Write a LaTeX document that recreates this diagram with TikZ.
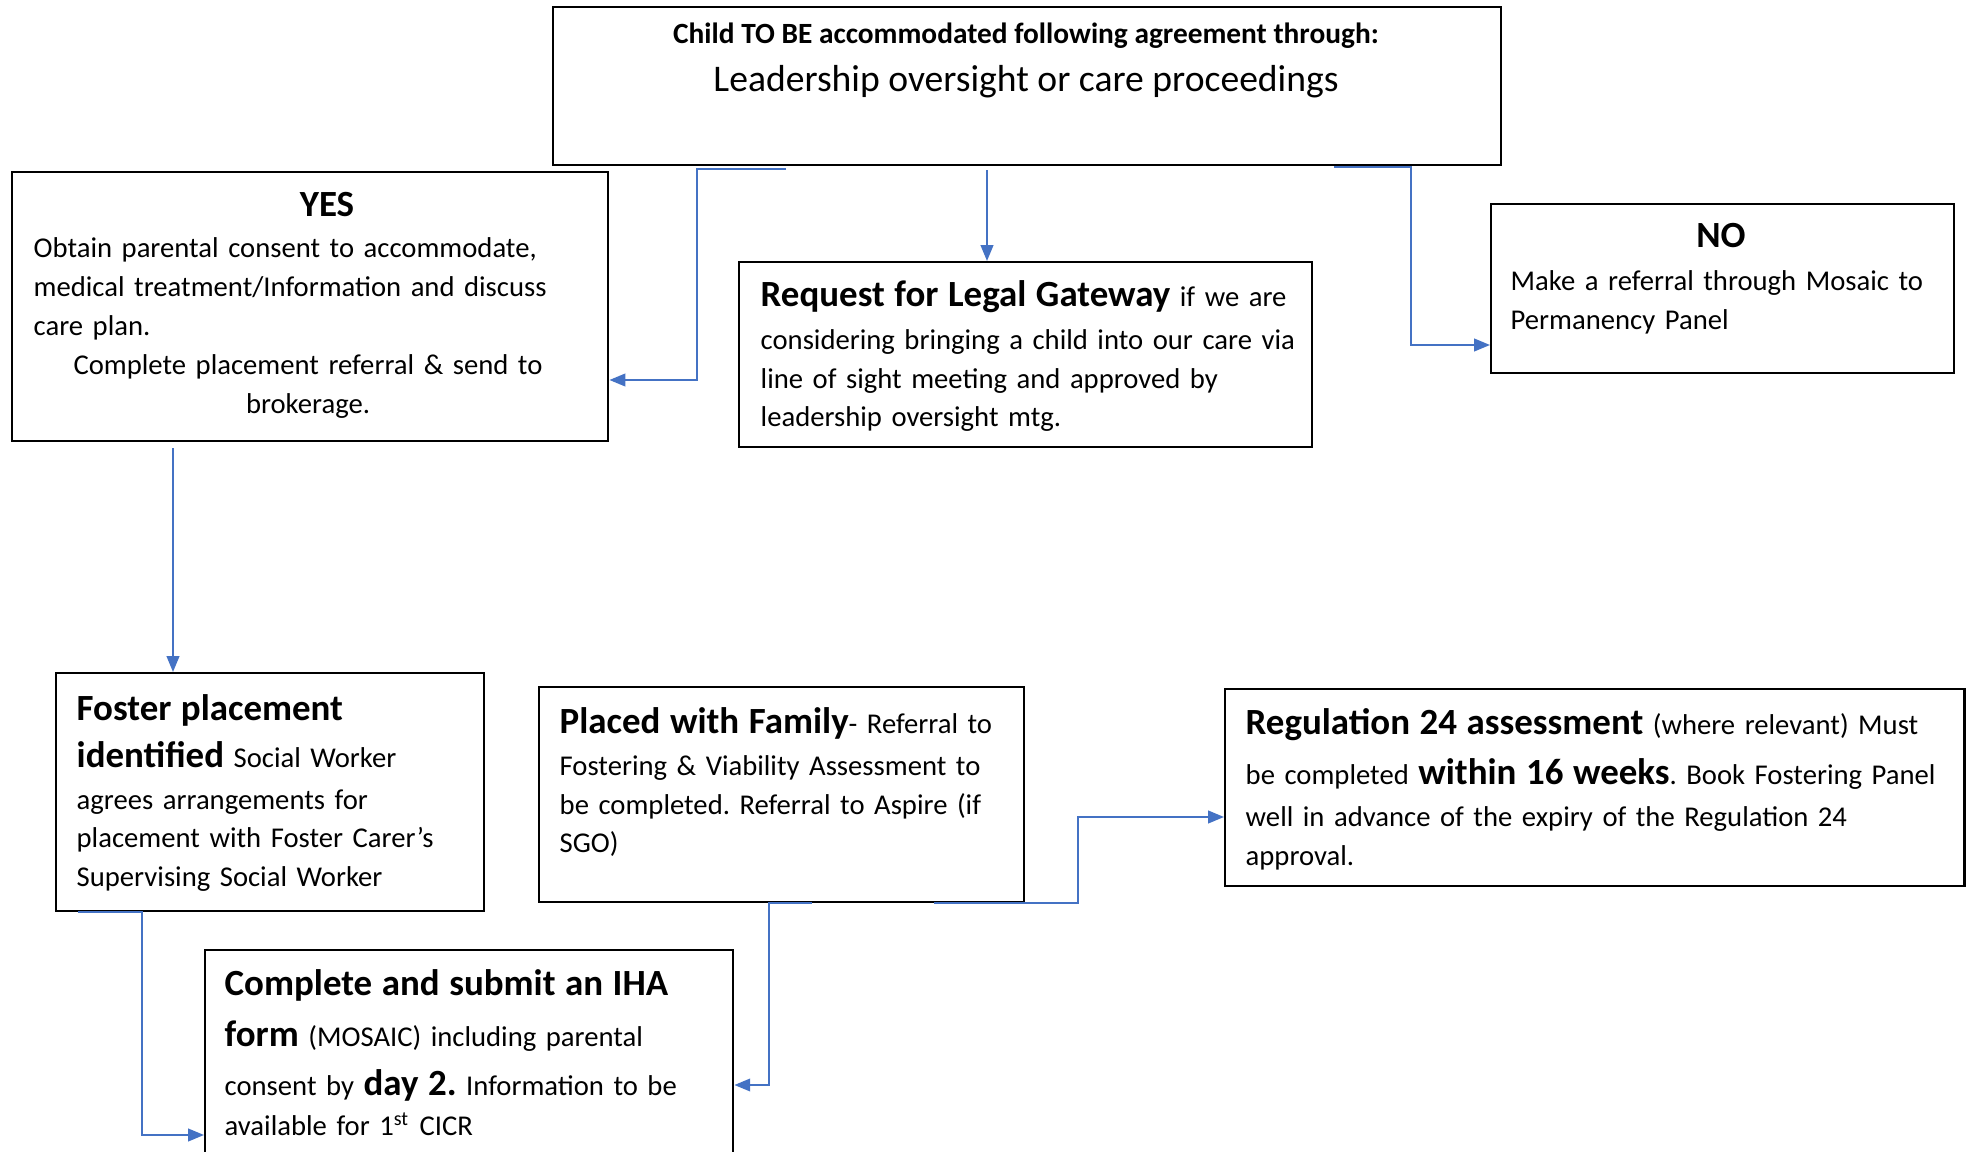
\documentclass[tikz,border=0pt]{standalone}
\usepackage{fontspec}
\setmainfont{Carlito}
\usetikzlibrary{arrows.meta,calc}
\definecolor{linkblue}{HTML}{4472C4}
\frenchspacing
\newcommand{\bodyfont}{\fontsize{8.15}{10.95}\selectfont}
\newcommand{\bigbf}[1]{{\fontsize{10.5}{10.95}\selectfont\bfseries #1}}

\begin{document}
\begin{tikzpicture}[x=0.01cm, y=-0.01cm,
  box/.style={draw, line width=0.6pt, inner sep=0pt, anchor=north west},
  txt/.style={inner sep=0pt, anchor=base west, align=left, font=\bodyfont},
  head/.style={inner sep=0pt, anchor=base, font=\fontsize{10.5}{12}\selectfont\bfseries},
  link/.style={draw=linkblue, line width=0.5pt, -{Triangle[length=4.5pt,width=3.6pt]}}]
		%%%%% FRAME %%%%%
		\clip (0,0) rectangle (1966,1152);
		
		%%%%% BOXES %%%%%
		\node[box, minimum width=9.47cm, minimum height=1.58cm] (top) at (552,6) {};
		\node[box, minimum width=5.96cm, minimum height=2.69cm] (yes) at (11,171) {};
		\node[box, minimum width=5.73cm, minimum height=1.85cm] (legal) at (738,261) {};
		\node[box, minimum width=4.63cm, minimum height=1.69cm] (no) at (1490,203) {};
		\node[box, minimum width=4.28cm, minimum height=2.38cm] (foster) at (55,672) {};
		\node[box, minimum width=4.85cm, minimum height=2.15cm] (family) at (538,686) {};
		\node[box, minimum width=7.39cm, minimum height=1.97cm] (reg) at (1224,688) {};
		\node[box, minimum width=5.28cm, minimum height=2.50cm] (iha) at (204,949) {};
		
		%%%%% TEXTS %%%%%
		\node[font=\fontsize{8.35}{10}\selectfont\bfseries, anchor=base, inner sep=0pt] (toptitle) at (1026,44) {Child TO BE accommodated following agreement through:};
		\node[font=\fontsize{10.7}{12}\selectfont, anchor=base, inner sep=0pt] (topsub) at (1026,92) {Leadership oversight or care proceedings};
		
		\node[head] (yeshead) at (327,217) {YES};
		\node[txt, text width=5.7cm] (yestxt) at (33,258) {Obtain parental consent to accommodate,\\ medical treatment/Information and discuss\\ care plan.};
		\node[txt, text width=5.7cm, align=center, anchor=base] (yesmore) at (308,375) {Complete placement referral \& send to\\ brokerage.};
		
		\node[txt, text width=5.8cm] (legaltxt) at (760,307) {\bigbf{Request for Legal Gateway} if we are\\[0.04cm] considering bringing a child into our care via\\ line of sight meeting and approved by\\ leadership oversight mtg.};
		
		\node[head] (nohead) at (1721,248) {NO};
		\node[txt, text width=4.5cm] (notxt) at (1510,291) {Make a referral through Mosaic to\\ Permanency Panel};
		
		\node[txt, text width=4.5cm] (fostertxt) at (76,720) {\bigbf{Foster placement}\\[0.085cm] \bigbf{identified} Social Worker\\[0.035cm] agrees arrangements for\\ placement with Foster Carer’s\\ Supervising Social Worker};
		
		\node[txt, text width=5cm] (familytxt) at (559,733) {\bigbf{Placed with Family}- Referral to\\[0.04cm] Fostering \& Viability Assessment to\\ be completed. Referral to Aspire (if\\ SGO)};
		
		\node[txt, text width=7.5cm] (regtxt) at (1245,735) {\bigbf{Regulation 24 assessment} (where relevant) Must\\[0.11cm] be completed \bigbf{within 16 weeks}. Book Fostering Panel\\[0.035cm] well in advance of the expiry of the Regulation 24\\ approval.};
		
		\node[txt, text width=5.5cm] (ihatxt) at (224,995) {\bigbf{Complete and submit an IHA}\\[0.125cm] \bigbf{form} (MOSAIC) including parental\\[0.11cm] consent by \bigbf{day 2.} Information to be\\[0.015cm] available for 1\textsuperscript{st} CICR};
		
		%%%%% LINKS %%%%%
		\draw[link] ($(top.south west)+(234,3)$) -| (697,380) -- (yes.east |- 0,380);
		\draw[link] ($(top.south -| 987,0)+(0,4)$) -- (legal.north -| 987,0);
		\draw[link] ($(top.south west)+(782,1)$) -| (1411,345) -- (no.west |- 0,345);
		\draw[link] ($(yes.south -| 173,0)+(0,6)$) -- (foster.north -| 173,0);
		\draw[link] (foster.south -| 78,0) -| (142,1135) -- (iha.west |- 0,1135);
		\draw[link] (family.south -| 812,0) -| (769,1085) -- (iha.east |- 0,1085);
		\draw[link] (family.south -| 934,0) -| (1078,817) -- (reg.west |- 0,817);
\end{tikzpicture}
\end{document}
